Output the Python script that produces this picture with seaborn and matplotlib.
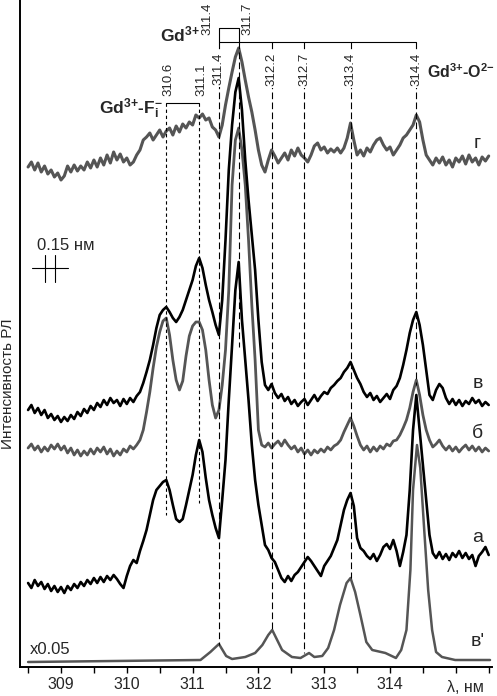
import matplotlib
matplotlib.use("Agg")
import matplotlib.pyplot as plt
import numpy as np
import seaborn as sns

# wavelength grid of the measured spectra, nm
wl = np.round(np.arange(308.5, 315.501, 0.05), 2)

# spectra (arb. units, stacked as in the figure)
spec_g = [500, 505, 497, 504, 495, 501, 493, 497, 490, 494, 487, 491, 501, 495, 502, 496, 501, 497, 505, 499,
          507, 500, 509, 502, 512, 504, 515, 507, 513, 505, 509, 502, 505, 512, 517, 527, 530, 534, 527, 532,
          537, 530, 536, 539, 532, 541, 535, 543, 539, 545, 542, 552, 549, 553, 547, 549, 540, 537, 530, 542,
          562, 579, 595, 610, 619, 605, 587, 570, 555, 537, 517, 502, 495, 507, 517, 511, 504, 509, 514, 507,
          517, 511, 519, 512, 509, 505, 512, 521, 524, 517, 520, 514, 518, 515, 519, 514, 519, 529, 544, 527,
          512, 517, 511, 519, 515, 522, 527, 529, 522, 517, 520, 512, 517, 522, 529, 532, 537, 542, 552, 545,
          527, 512, 507, 502, 509, 504, 510, 502, 507, 500, 509, 505, 511, 503, 512, 505, 509, 502, 510, 506,
          511]
spec_v = [257, 262, 254, 259, 252, 257, 249, 253, 247, 251, 245, 250, 246, 252, 248, 255, 251, 258, 254, 261,
          257, 264, 260, 267, 262, 269, 264, 267, 261, 268, 263, 269, 265, 271, 275, 284, 295, 307, 322, 339,
          352, 357, 360, 355, 349, 345, 350, 357, 367, 377, 387, 401, 409, 399, 382, 367, 355, 342, 332, 367,
          427, 497, 542, 575, 589, 557, 507, 467, 432, 397, 347, 305, 282, 277, 283, 274, 269, 273, 266, 270,
          263, 267, 261, 265, 268, 262, 267, 272, 266, 271, 275, 273, 279, 282, 286, 289, 295, 299, 305, 297,
          289, 283, 275, 270, 274, 267, 271, 265, 269, 273, 268, 277, 281, 289, 302, 317, 334, 347, 355, 342,
          322, 297, 272, 267, 277, 283, 279, 269, 263, 268, 262, 267, 261, 266, 263, 269, 264, 267, 261, 265,
          262]
spec_b = [219, 223, 217, 221, 215, 220, 216, 222, 218, 223, 217, 221, 214, 219, 212, 217, 211, 216, 212, 218,
          213, 219, 215, 220, 213, 218, 211, 216, 212, 218, 215, 221, 218, 222, 227, 237, 255, 275, 299, 320,
          335, 346, 349, 332, 307, 287, 277, 286, 311, 331, 341, 345, 345, 337, 317, 287, 262, 249, 257, 282,
          317, 377, 482, 527, 539, 517, 482, 427, 362, 307, 237, 222, 220, 224, 219, 223, 226, 221, 227, 222,
          218, 221, 215, 219, 213, 217, 212, 217, 214, 218, 215, 220, 217, 221, 223, 227, 235, 242, 249, 241,
          231, 222, 217, 221, 215, 220, 216, 221, 218, 223, 221, 226, 227, 232, 239, 247, 259, 275, 287, 272,
          252, 237, 227, 220, 223, 227, 221, 217, 221, 216, 220, 215, 219, 222, 217, 221, 216, 220, 215, 219,
          216]
spec_a = [84, 79, 87, 81, 85, 78, 83, 76, 81, 75, 80, 74, 81, 77, 83, 79, 85, 81, 87, 83,
          89, 84, 90, 85, 91, 87, 92, 88, 83, 79, 91, 101, 107, 104, 116, 126, 137, 152, 167, 177,
          181, 185, 187, 177, 162, 148, 145, 148, 162, 177, 192, 212, 227, 215, 189, 167, 152, 139, 129, 167,
          207, 267, 322, 377, 405, 347, 307, 267, 222, 187, 162, 142, 122, 117, 109, 105, 97, 89, 85, 91,
          86, 92, 95, 100, 105, 110, 106, 101, 96, 91, 101, 106, 111, 119, 127, 142, 157, 167, 174, 161,
          129, 119, 116, 111, 108, 113, 106, 112, 120, 123, 118, 127, 116, 101, 115, 132, 177, 237, 272, 237,
          202, 167, 132, 114, 109, 115, 108, 113, 107, 114, 110, 116, 109, 114, 108, 112, 101, 111, 115, 120,
          112]

# spectrum в' (scaled x0.05), smooth, read at fewer points
wl_v1 = [308.50, 311.12, 311.27, 311.40, 311.51, 311.60, 311.80, 311.95, 312.06, 312.15, 312.21, 312.27,
         312.36, 312.51, 312.64, 312.77, 312.85, 312.97, 313.06, 313.15, 313.24, 313.34, 313.40, 313.47,
         313.55, 313.64, 313.73, 313.93, 314.09, 314.17, 314.25, 314.31, 314.35, 314.41, 314.46, 314.52,
         314.58, 314.64, 314.70, 314.79, 314.99, 315.52]
spec_v1 = [5, 7, 15, 23, 11, 8, 10, 14, 22, 32, 37, 29,
           17, 10, 9, 14, 10, 11, 19, 37, 62, 84, 89, 75,
           52, 25, 17, 14, 9, 17, 37, 97, 177, 222, 199, 137,
           77, 37, 15, 10, 7, 7]

# line positions, nm
lines_fi = [310.6, 311.1]
lines_gd = [311.4, 311.7]
lines_o = [312.2, 312.7, 313.4, 314.4]
curve_names = ["г", "в", "б", "а", "в'"]

sns.set_theme(style="ticks")
plt.rcParams["font.family"] = ["Liberation Sans", "DejaVu Sans"]
plt.rcParams["mathtext.fontset"] = "custom"
plt.rcParams["mathtext.rm"] = "Liberation Sans"
plt.rcParams["mathtext.bf"] = "Liberation Sans:bold"
plt.rcParams["mathtext.it"] = "Liberation Sans:italic"

fig = plt.figure(figsize=(4.97, 6.96), dpi=100)
ax = fig.add_axes([20 / 497, 29 / 696, 472 / 497, 667 / 696])

gray = "#555555"
sns.lineplot(x=wl, y=spec_g, ax=ax, color=gray, lw=2.2)
sns.lineplot(x=wl, y=spec_b, ax=ax, color=gray, lw=2.0)
sns.lineplot(x=wl_v1, y=spec_v1, ax=ax, color=gray, lw=1.8)
sns.lineplot(x=wl, y=spec_v, ax=ax, color="black", lw=1.9)
sns.lineplot(x=wl, y=spec_a, ax=ax, color="black", lw=1.9)

# dashed marker lines
fine = (0, (3, 2.5))
long_ = (0, (6, 3))
ends = {310.6: 152, 311.1: 164, 311.4: 22, 311.7: 320, 312.2: 37, 312.7: 14, 313.4: 89, 314.4: 282}
for p in lines_fi:
    ax.plot([p, p], [564, ends[p]], color="black", lw=0.8, ls=fine)
for p in lines_gd + lines_o:
    ax.plot([p, p], [625, ends[p]], color="black", lw=0.8, ls=long_)

# brackets
ax.plot([lines_fi[0], lines_fi[1]], [564, 564], color="black", lw=0.8)
ax.plot([311.4, 311.4, 311.7, 311.7], [625, 639, 639, 625], color="black", lw=0.8)
ax.plot([311.4, 314.4], [625, 625], color="black", lw=0.8)

# line labels
for p in lines_fi:
    ax.text(p + 0.03, 571, f"{p:.1f}", rotation=90, ha="center", va="bottom", fontsize=9.5)
ax.text(311.22, 632, "311.4", rotation=90, ha="center", va="bottom", fontsize=9.5)
ax.text(311.83, 632, "311.7", rotation=90, ha="center", va="bottom", fontsize=9.5)
for p in [311.4] + lines_o:
    ax.text(p, 598, f"{p:.1f}", rotation=90, ha="center", va="center", fontsize=9.5,
            bbox=dict(facecolor="white", edgecolor="none", pad=1.5))

ax.text(310.8, 633, r"$\mathbf{Gd^{3{+}}}$", ha="center", va="center", fontsize=12.5)
ax.text(310.55, 558, r"$\mathbf{Gd^{3{+}}}$-$\mathbf{F_i^{-}}$", ha="right", va="center",
        fontsize=12.5, fontweight="bold")
ax.text(314.56, 595, r"$\mathbf{Gd^{3{+}}}$-$\mathbf{O^{2{-}}}$", ha="left", va="center",
        fontsize=11.5, fontweight="bold")

# curve labels
for name, h in zip(curve_names, [523, 284, 234, 129, 26]):
    ax.text(315.33, h, name, ha="center", va="center", fontsize=14)
ax.text(308.52, 18, "x0.05", ha="left", va="center", fontsize=12)

# resolution scale
ax.text(309.07, 422, "0.15 нм", ha="center", va="center", fontsize=12)
ax.plot([308.56, 309.11], [399, 399], color="black", lw=0.8)
for p in [308.76, 308.91]:
    ax.plot([p, p], [385, 412], color="black", lw=0.8)

ax.set_xlim(308.377, 315.55)
ax.set_ylim(0, 667)
ax.set_xticks([309, 310, 311, 312, 313, 314])
ax.set_xticklabels(["309", "310", "311", "312", "313", "314"], fontsize=11.5)
ax.set_xticks(np.arange(308.5, 315.6, 0.5), minor=True)
ax.tick_params(axis="x", which="both", direction="out", length=4.5, width=1, color="black", pad=3)
ax.set_yticks([])
ax.text(315.14, -20, "λ, нм", ha="center", va="center", fontsize=11.5, clip_on=False)
ax.set_xlabel("")
ax.set_ylabel("Интенсивность РЛ", fontsize=11)
ax.yaxis.set_label_coords(-0.011, 0.425)
sns.despine(ax=ax)
for s in ["left", "bottom"]:
    ax.spines[s].set_linewidth(1.4)
    ax.spines[s].set_color("black")

fig.savefig("out.png", dpi=100)
